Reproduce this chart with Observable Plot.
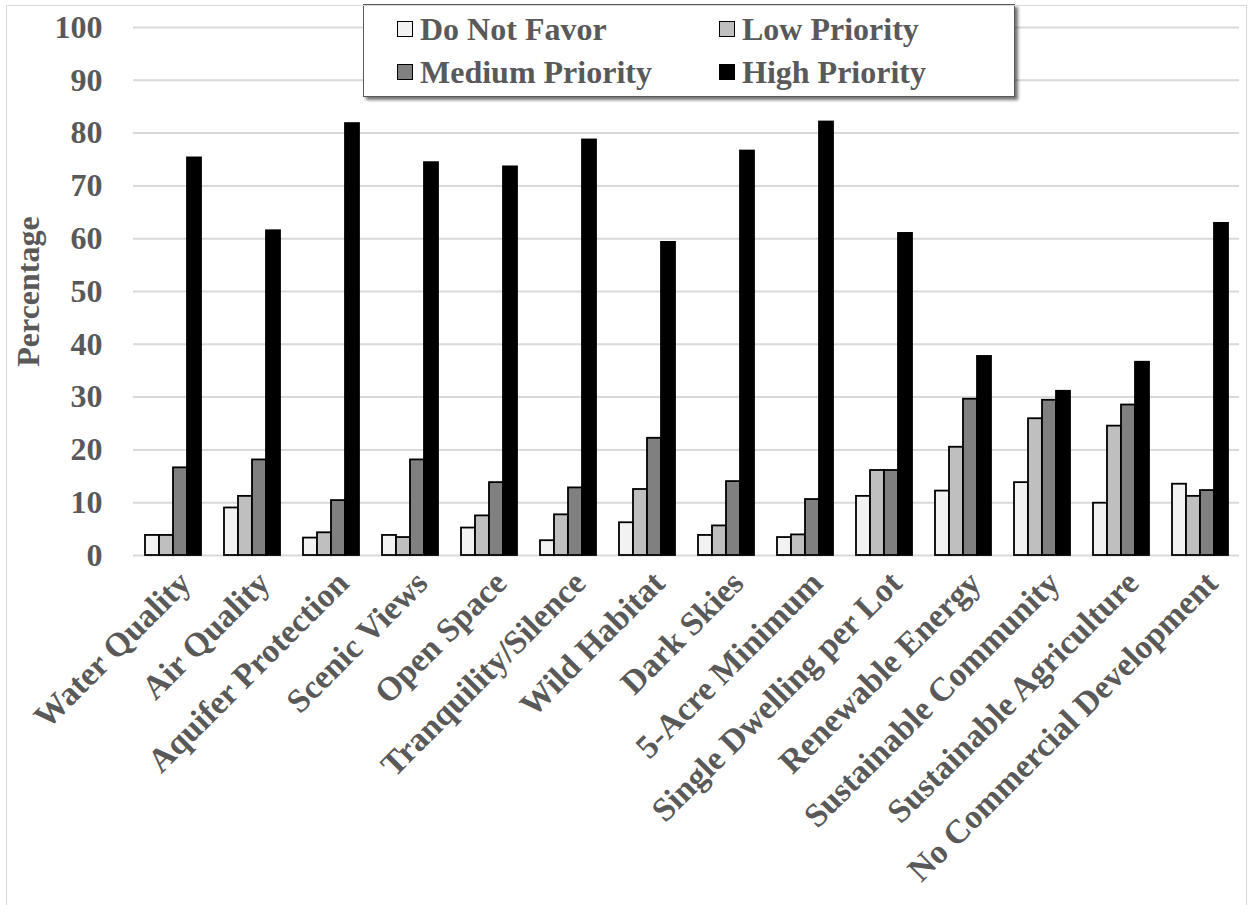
<!DOCTYPE html>
<html>
<head>
<meta charset="utf-8">
<script src="https://cdn.jsdelivr.net/npm/d3@7"></script>
<script src="https://cdn.jsdelivr.net/npm/@observablehq/plot@0.6"></script>
<style>
  body { margin: 0; background: white; }
  #wrap { position: relative; width: 1250px; height: 905px; overflow: hidden; background: white; }
  #frame { position: absolute; left: 6px; top: 5px; width: 1241px; height: 910px; border: 1.5px solid #d9d9d9; box-sizing: border-box; pointer-events: none; }
  #legend { position: absolute; left: 363px; top: 4px; width: 652px; height: 93px; background: white;
            border: 1.5px solid #595959; box-shadow: 3px 3px 3px rgba(0,0,0,0.55); box-sizing: border-box;
            font-family: 'Liberation Serif', 'Times New Roman', serif; font-weight: bold; font-size: 32px; color: #595959; }
  .item { position: absolute; display: flex; align-items: center; white-space: nowrap; line-height: 36px; }
  .sw { width: 14px; height: 14px; border: 1.5px solid #000; margin-right: 7px; }
</style>
</head>
<body>
<div id="wrap">
  <div id="chart"></div>
  <div id="legend"></div>
  <div id="frame"></div>
</div>
<script>
const categories = ["Water Quality", "Air Quality", "Aquifer Protection", "Scenic Views", "Open Space",
  "Tranquility/Silence", "Wild Habitat", "Dark Skies", "5-Acre Minimum", "Single Dwelling per Lot",
  "Renewable Energy", "Sustainable Community", "Sustainable Agriculture", "No Commercial Development"];
const series = ["Do Not Favor", "Low Priority", "Medium Priority", "High Priority"];
const colors = ["#f2f2f2", "#bfbfbf", "#808080", "#000000"];
const doNotFavor     = [3.8, 9.0, 3.3, 3.8, 5.2, 2.8, 6.2, 3.8, 3.4, 11.2, 12.2, 13.8, 9.9, 13.5];
const lowPriority    = [3.8, 11.2, 4.3, 3.4, 7.5, 7.7, 12.5, 5.6, 3.9, 16.1, 20.5, 25.9, 24.5, 11.2];
const mediumPriority = [16.6, 18.1, 10.4, 18.1, 13.8, 12.8, 22.2, 14.0, 10.6, 16.1, 29.6, 29.4, 28.5, 12.3];
const highPriority   = [75.3, 61.5, 81.8, 74.4, 73.6, 78.7, 59.3, 76.6, 82.1, 61.0, 37.7, 31.1, 36.6, 62.9];
const yTicks = [0, 10, 20, 30, 40, 50, 60, 70, 80, 90, 100];

const seriesValues = [doNotFavor, lowPriority, mediumPriority, highPriority];
const data = [];
categories.forEach((c, i) => {
  series.forEach((s, j) => data.push({category: c, series: s, value: seriesValues[j][i]}));
});

const chart = Plot.plot({
  width: 1250,
  height: 905,
  marginLeft: 129,
  marginRight: 7,
  marginTop: 27,
  marginBottom: 350,
  style: {fontFamily: "Liberation Serif, serif", fontWeight: "bold", fontSize: "32px", color: "#595959", background: "white"},
  fx: {domain: categories, padding: 0},
  x: {domain: series, paddingInner: 0, paddingOuter: 0.78, axis: null},
  y: {domain: [0, 100]},
  color: {domain: series, range: colors},
  marks: [
    Plot.ruleY(yTicks, {stroke: "#d9d9d9", strokeWidth: 2}),
    Plot.barY(data, {fx: "category", x: "series", y: "value", fill: "series", stroke: "#000", strokeWidth: 1.8, inset: 0}),
    Plot.axisY({ticks: yTicks, tickSize: 0, tickPadding: 31, label: "Percentage",
      labelAnchor: "center", labelOffset: 117, labelArrow: "none"}),
    Plot.axisFx({anchor: "bottom", tickRotate: -45, tickSize: 0, tickPadding: 22, label: null,
      fontSize: 33.5, dx: 12})
  ]
});
document.getElementById("chart").appendChild(chart);

const legend = document.getElementById("legend");
const pos = [[33, 6], [355, 6], [33, 49], [355, 49]];
series.forEach((s, j) => {
  const it = document.createElement("div");
  it.className = "item";
  it.style.left = pos[j][0] + "px";
  it.style.top = pos[j][1] + "px";
  const sw = document.createElement("div");
  sw.className = "sw";
  sw.style.background = colors[j];
  const t = document.createElement("span");
  t.textContent = s;
  t.style.fontFamily = "'Liberation Serif', serif";
  it.appendChild(sw); it.appendChild(t);
  legend.appendChild(it);
});
</script>
</body>
</html>
